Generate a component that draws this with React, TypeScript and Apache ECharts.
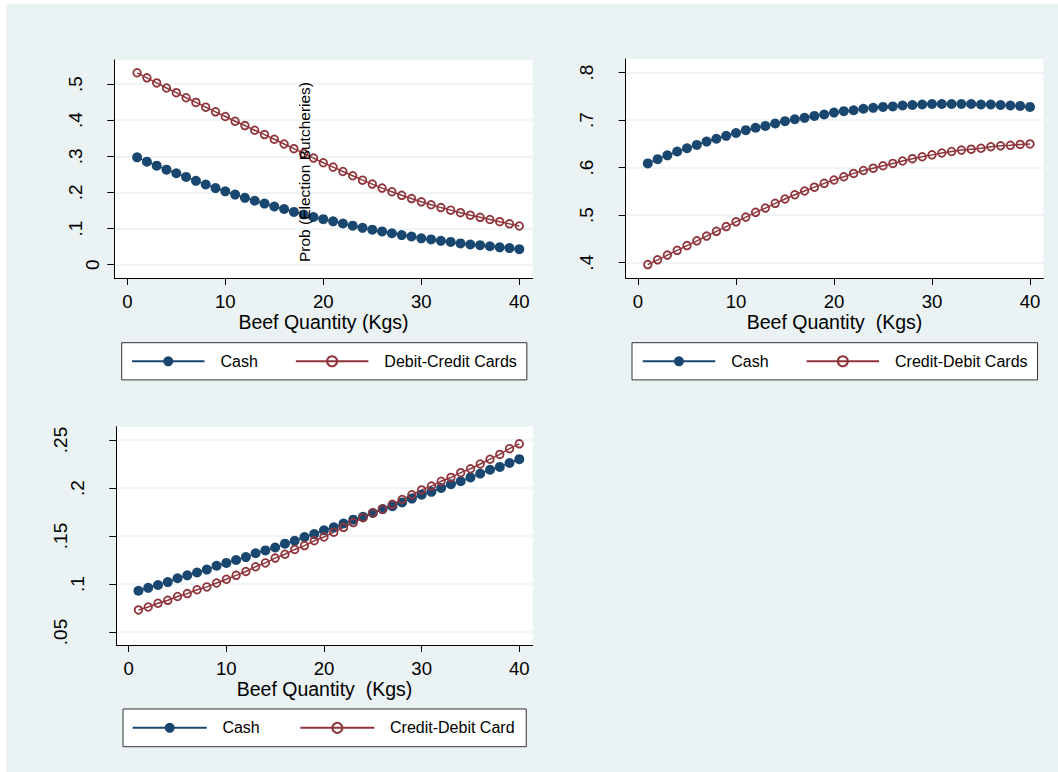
import React, { useEffect, useRef } from "react";
import * as echarts from "echarts";

// ---------- data ----------
const qty = [1, 2, 3, 4, 5, 6, 7, 8, 9, 10, 11, 12, 13, 14, 15, 16, 17, 18, 19, 20,
  21, 22, 23, 24, 25, 26, 27, 28, 29, 30, 31, 32, 33, 34, 35, 36, 37, 38, 39, 40];

const p1Cash = [0.297, 0.285, 0.274, 0.263, 0.253, 0.243, 0.232, 0.222, 0.212, 0.203,
  0.194, 0.185, 0.177, 0.169, 0.161, 0.154, 0.146, 0.139, 0.132, 0.126,
  0.120, 0.114, 0.108, 0.102, 0.097, 0.092, 0.087, 0.082, 0.078, 0.073,
  0.070, 0.066, 0.063, 0.059, 0.056, 0.054, 0.051, 0.048, 0.046, 0.043];
const p1Card = [0.531, 0.517, 0.503, 0.489, 0.476, 0.462, 0.449, 0.436, 0.423, 0.410,
  0.397, 0.385, 0.372, 0.360, 0.347, 0.334, 0.321, 0.308, 0.295, 0.282,
  0.270, 0.258, 0.246, 0.234, 0.223, 0.212, 0.202, 0.192, 0.183, 0.174,
  0.166, 0.158, 0.151, 0.144, 0.137, 0.131, 0.125, 0.119, 0.113, 0.107];

const p2Cash = [0.609, 0.618, 0.626, 0.634, 0.641, 0.648, 0.655, 0.661, 0.667, 0.673,
  0.679, 0.684, 0.688, 0.693, 0.698, 0.702, 0.705, 0.709, 0.712, 0.716,
  0.719, 0.721, 0.724, 0.726, 0.728, 0.729, 0.731, 0.732, 0.733, 0.734,
  0.734, 0.734, 0.734, 0.734, 0.733, 0.733, 0.732, 0.731, 0.730, 0.728];
const p2Card = [0.396, 0.406, 0.416, 0.426, 0.436, 0.446, 0.456, 0.466, 0.476, 0.486,
  0.496, 0.506, 0.515, 0.525, 0.534, 0.543, 0.551, 0.559, 0.567, 0.574,
  0.581, 0.588, 0.594, 0.599, 0.604, 0.609, 0.614, 0.619, 0.623, 0.627,
  0.631, 0.634, 0.637, 0.639, 0.641, 0.644, 0.646, 0.647, 0.649, 0.650];

const p3Cash = [0.093, 0.096, 0.099, 0.102, 0.106, 0.109, 0.112, 0.115, 0.119, 0.122,
  0.125, 0.128, 0.132, 0.135, 0.138, 0.142, 0.145, 0.149, 0.152, 0.156,
  0.159, 0.163, 0.167, 0.170, 0.174, 0.178, 0.181, 0.185, 0.189, 0.193,
  0.196, 0.200, 0.204, 0.207, 0.211, 0.215, 0.219, 0.222, 0.226, 0.230];
const p3Card = [0.073, 0.076, 0.080, 0.083, 0.087, 0.090, 0.094, 0.097, 0.101, 0.105,
  0.109, 0.113, 0.118, 0.122, 0.127, 0.131, 0.136, 0.140, 0.145, 0.149,
  0.154, 0.159, 0.164, 0.169, 0.174, 0.178, 0.183, 0.188, 0.193, 0.198,
  0.202, 0.207, 0.211, 0.216, 0.220, 0.225, 0.230, 0.235, 0.241, 0.246];

const xTicks = [0, 10, 20, 30, 40];
const y1Ticks = [0, 0.1, 0.2, 0.3, 0.4, 0.5];
const y2Ticks = [0.4, 0.5, 0.6, 0.7, 0.8];
const y3Ticks = [0.05, 0.1, 0.15, 0.2, 0.25];

const nameCash = "Cash";
const name1Card = "Debit-Credit Cards";
const name2Card = "Credit-Debit Cards";
const name3Card = "Credit-Debit Card";
const xTitle1 = "Beef Quantity (Kgs)";
const xTitle2 = "Beef Quantity  (Kgs)";
const yTitle = "Prob (Election Butcheries)";

// ---------- styles ----------
const FONT = "'Liberation Sans', Arial, Helvetica, sans-serif";
const NAVY = "#1A476F";
const MAROON = "#90353B";
const GRID = "#EAF2F3";

const pairs = (ys: number[]) => qty.map((q, i) => [q, ys[i]]);

const yLabelStyle = {
  fontSize: 19,
  fontFamily: FONT,
  color: "#000",
};

function makeX(gridIndex: number, min: number, max: number, title: string, nameGap: number) {
  return {
    type: "value",
    gridIndex,
    min,
    max,
    name: title,
    nameLocation: "middle",
    nameGap,
    nameTextStyle: { fontSize: 19.5, fontFamily: FONT, color: "#000" },
    axisLine: { show: true, onZero: false, lineStyle: { color: "#000", width: 1 } },
    axisTick: { show: true, length: 7, customValues: xTicks, lineStyle: { color: "#000", width: 1 } },
    axisLabel: { customValues: xTicks, fontSize: 18.6, fontFamily: FONT, color: "#000", margin: 14 },
    splitLine: { show: false },
  };
}

function makeY(gridIndex: number, min: number, max: number, ticks: number[]) {
  return {
    type: "value",
    gridIndex,
    min,
    max,
    axisLine: { show: true, onZero: false, lineStyle: { color: "#000", width: 1 } },
    axisTick: { show: true, length: 7, customValues: ticks, lineStyle: { color: "#000", width: 1 } },
    axisLabel: {
      customValues: ticks,
      rotate: 90,
      margin: 12.5,
      ...yLabelStyle,
      formatter: (v: number) => {
        let s = String(+Number(v).toFixed(4));
        if (s.startsWith("0.")) s = s.slice(1);
        return `{l${s.length}|${s}}`;
      },
      rich: {
        l1: { ...yLabelStyle, padding: [0, 0, 0, 0] },
        l2: { ...yLabelStyle, padding: [0, 0, 17, 0] },
        l3: { ...yLabelStyle, padding: [0, 0, 34, 0] },
      },
    },
    splitLine: { show: true, lineStyle: { color: GRID, width: 1.6 } },
  };
}

function cashSeries(xi: number, data: number[]) {
  return {
    type: "line",
    name: nameCash,
    xAxisIndex: xi,
    yAxisIndex: xi,
    data: pairs(data),
    symbol: "circle",
    symbolSize: 10,
    itemStyle: { color: NAVY },
    lineStyle: { color: NAVY, width: 1.5 },
    emphasis: { disabled: true },
  };
}

function cardSeries(xi: number, name: string, data: number[]) {
  return {
    type: "line",
    name,
    xAxisIndex: xi,
    yAxisIndex: xi,
    data: pairs(data),
    symbol: "circle",
    symbolSize: 7.6,
    itemStyle: { color: "rgba(255,255,255,0)", borderColor: MAROON, borderWidth: 1.8 },
    lineStyle: { color: MAROON, width: 1.5 },
    emphasis: { disabled: true },
  };
}

function makeLegend(left: number, top: number, names: string[], padL: number, padR: number, padV: number, itemWidth: number, itemGap: number, textPad: number) {
  return {
    left,
    top,
    orient: "horizontal",
    data: names,
    itemWidth,
    itemHeight: 12.5,
    itemGap,
    padding: [padV, padR, padV, padL],
    backgroundColor: "#fff",
    borderColor: "#333",
    borderWidth: 1,
    selectedMode: false,
    textStyle: { fontSize: 16, fontFamily: FONT, color: "#000", padding: [0, 0, 0, textPad] },
  };
}

export default function App() {
  const ref = useRef<HTMLDivElement>(null);

  useEffect(() => {
    if (!ref.current) return;
    const chart = echarts.init(ref.current, undefined, { renderer: "svg" });
    const option = {
      animation: false,
      backgroundColor: "transparent",
      textStyle: { fontFamily: FONT },
      grid: [
        { left: 114.3, top: 60, width: 418.4, height: 218, show: true, backgroundColor: "#fff", borderWidth: 0, containLabel: false },
        { left: 625.7, top: 59, width: 417.6, height: 219, show: true, backgroundColor: "#fff", borderWidth: 0, containLabel: false },
        { left: 116.3, top: 426.7, width: 416.4, height: 218.3, show: true, backgroundColor: "#fff", borderWidth: 0, containLabel: false },
      ],
      xAxis: [
        makeX(0, -1.327, 41.367, xTitle1, 32.7),
        makeX(1, -1.255, 41.357, xTitle2, 32.7),
        makeX(2, -1.27, 41.372, xTitle2, 33.5),
      ],
      yAxis: [
        makeY(0, -0.0368, 0.5664, y1Ticks),
        makeY(1, 0.3678, 0.8288, y2Ticks),
        makeY(2, 0.03646, 0.26385, y3Ticks),
      ],
      legend: [
        makeLegend(121.7, 342.7, [nameCash, name1Card], 9.3, 10, 10.6, 72.5, 37, 11),
        makeLegend(632, 342.7, [nameCash, name2Card], 9.7, 10, 10.6, 72.5, 37, 11),
        makeLegend(123, 709, [nameCash, name3Card], 8.7, 11.7, 10.85, 74, 39.6, 10.7),
      ],
      graphic: [
        {
          type: "text",
          x: 304,
          y: 172,
          rotation: Math.PI / 2,
          z: 100,
          style: {
            text: yTitle,
            fontSize: 15.5,
            fontFamily: FONT,
            fill: "#000",
            align: "center",
            verticalAlign: "middle",
          },
        },
      ],
      series: [
        cashSeries(0, p1Cash),
        cardSeries(0, name1Card, p1Card),
        cashSeries(1, p2Cash),
        cardSeries(1, name2Card, p2Card),
        cashSeries(2, p3Cash),
        cardSeries(2, name3Card, p3Card),
      ],
    };
    chart.setOption(option as any);
    return () => chart.dispose();
  }, []);

  return (
    <div style={{ position: "absolute", left: 0, top: 0, width: 1058, height: 772, background: "#fff" }}>
      <div style={{ position: "absolute", left: 6, top: 4, width: 1052, height: 768, background: GRID }} />
      <div ref={ref} style={{ position: "absolute", left: 0, top: 0, width: 1058, height: 772 }} />
    </div>
  );
}
